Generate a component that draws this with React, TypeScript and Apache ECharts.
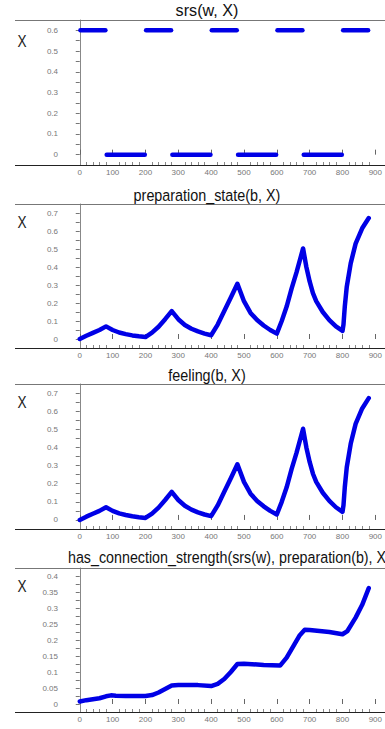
import React, { useEffect, useRef } from "react";
import * as echarts from "echarts";

// ---- data ----
const titles = [
  "srs(w, X)",
  "preparation_state(b, X)",
  "feeling(b, X)",
  "has_connection_strength(srs(w), preparation(b), X",
];
const xTickLabels = [0, 100, 200, 300, 400, 500, 600, 700, 800, 900];
const xMinorTicks = [
  20, 40, 60, 80, 120, 140, 160, 180, 220, 240, 260, 280, 320, 340, 360, 380,
  420, 440, 460, 480, 520, 540, 560, 580, 620, 640, 660, 680, 720, 740, 760,
  780, 820, 840, 860, 880,
];

// srs(w, X): piecewise constant segments
const srsStart = [0, 80, 200, 280, 400, 480, 600, 680, 800];
const srsEnd = [80, 200, 280, 400, 480, 600, 680, 800, 880];
const srsLevel = [0.6, 0, 0.6, 0, 0.6, 0, 0.6, 0, 0.6];

// preparation_state(b, X)
const prepX = [
  0, 20, 40, 60, 80, 100, 120, 140, 160, 180, 200, 220, 240, 260, 280, 300,
  320, 340, 360, 380, 400, 420, 440, 460, 480, 500, 520, 540, 560, 580, 600,
  615, 630, 645, 660, 680, 690, 700, 710, 720, 740, 760, 780, 800, 803, 807,
  813, 825, 840, 860, 880,
];
const prepY = [
  0, 0.018, 0.034, 0.05, 0.07, 0.05, 0.036, 0.027, 0.02, 0.015, 0.011, 0.035,
  0.068, 0.11, 0.155, 0.11, 0.078, 0.057, 0.042, 0.03, 0.021, 0.08, 0.155,
  0.23, 0.307, 0.21, 0.145, 0.105, 0.075, 0.05, 0.03, 0.1, 0.18, 0.28, 0.37,
  0.503, 0.4, 0.32, 0.255, 0.21, 0.15, 0.105, 0.07, 0.045, 0.08, 0.18, 0.29,
  0.42, 0.53, 0.615, 0.672,
];

// feeling(b, X)
const feelX = prepX;
const feelY = [
  0, 0.018, 0.034, 0.05, 0.07, 0.05, 0.036, 0.027, 0.02, 0.015, 0.011, 0.035,
  0.068, 0.11, 0.155, 0.11, 0.078, 0.057, 0.042, 0.03, 0.021, 0.08, 0.155,
  0.23, 0.307, 0.21, 0.145, 0.105, 0.075, 0.05, 0.03, 0.1, 0.18, 0.28, 0.37,
  0.503, 0.4, 0.32, 0.255, 0.21, 0.15, 0.105, 0.07, 0.045, 0.08, 0.18, 0.29,
  0.42, 0.53, 0.615, 0.672,
];

// has_connection_strength
const connX = [
  0, 20, 40, 60, 80, 95, 110, 140, 200, 220, 240, 260, 280, 300, 360, 400, 420,
  440, 460, 480, 500, 560, 610, 630, 650, 670, 685, 700, 760, 800, 815, 840,
  860, 880,
];
const connY = [
  0.008, 0.012, 0.015, 0.018, 0.024, 0.027, 0.026, 0.025, 0.025, 0.028, 0.036,
  0.047, 0.058, 0.059, 0.059, 0.056, 0.063, 0.078, 0.1, 0.125, 0.126, 0.122,
  0.12, 0.145, 0.18, 0.215, 0.232, 0.231, 0.225, 0.218, 0.228, 0.27, 0.31,
  0.362,
];

// y-axis ranges per panel
const yMins = [-0.05, -0.05, -0.05, -0.025];
const yMaxs = [0.65, 0.75, 0.75, 0.425];
const yIntervals = [0.05, 0.05, 0.05, 0.025];
const yLabelSteps = [0.1, 0.1, 0.1, 0.05];

// ---- layout ----
const panelTop = [20, 204, 384, 568];
const panelBottom = [165, 348, 529, 712];
const titleY = [10, 195, 375, 557];
const titleScale = [0.95, 0.845, 0.845, 0.84];
const xLabelY = [42, 223, 403, 587];

const BLUE = "#0000e6";
const FONT = "'Liberation Sans', Arial, sans-serif";

export default function App() {
  const ref = useRef<HTMLDivElement>(null);
  useEffect(() => {
    document.body.style.margin = "0";
    if (!ref.current) return;
    const chart = echarts.init(ref.current, null, { renderer: "svg" });

    const grids: any[] = [];
    const xAxes: any[] = [];
    const yAxes: any[] = [];
    const series: any[] = [];
    const graphics: any[] = [];

    for (let i = 0; i < 4; i++) {
      grids.push({
        left: 64,
        right: 0,
        top: panelTop[i],
        height: panelBottom[i] - panelTop[i],
        containLabel: false,
      });
      xAxes.push({
        type: "value",
        gridIndex: i,
        min: -48,
        max: 915,
        axisLine: { show: false },
        splitLine: { show: false },
        axisTick: {
          show: true,
          inside: true,
          length: 5,
          customValues: xTickLabels,
          lineStyle: { color: "#666", width: 1 },
        },
        axisLabel: {
          show: true,
          customValues: xTickLabels,
          color: "#777",
          fontSize: 8,
          fontFamily: FONT,
          margin: 3,
        },
      });
      xAxes.push({
        type: "value",
        gridIndex: i,
        position: "bottom",
        min: -48,
        max: 915,
        axisLine: { show: false },
        splitLine: { show: false },
        axisTick: {
          show: true,
          inside: true,
          length: 3,
          customValues: xMinorTicks,
          lineStyle: { color: "#888", width: 1 },
        },
        axisLabel: { show: false },
      });
      const step = yLabelSteps[i];
      yAxes.push({
        type: "value",
        gridIndex: i,
        min: yMins[i],
        max: yMaxs[i],
        interval: yIntervals[i],
        axisLine: { show: true, lineStyle: { color: "#888", width: 1 } },
        splitLine: { show: false },
        axisTick: {
          show: true,
          length: 4,
          lineStyle: { color: "#777", width: 1 },
        },
        axisLabel: {
          show: true,
          color: "#777",
          fontSize: 8,
          fontFamily: FONT,
          margin: 6,
          showMinLabel: false,
          showMaxLabel: false,
          formatter: (v: number) => {
            const k = v / step;
            if (Math.abs(k - Math.round(k)) > 1e-6 || v < -1e-9) return "";
            return String(parseFloat(v.toFixed(3)));
          },
        },
      });

      // frame lines
      graphics.push({
        type: "line",
        shape: { x1: 15, y1: panelTop[i] + 0.5, x2: 385, y2: panelTop[i] + 0.5 },
        style: { stroke: "#777", lineWidth: 1 },
        z: 10,
      });
      graphics.push({
        type: "line",
        shape: {
          x1: 15,
          y1: panelBottom[i] + 0.5,
          x2: 385,
          y2: panelBottom[i] + 0.5,
        },
        style: { stroke: "#222", lineWidth: 1 },
        z: 10,
      });
      // title
      const last = i === 3;
      graphics.push({
        type: "text",
        x: last ? 68 : 207,
        y: titleY[i],
        scaleX: titleScale[i],
        style: {
          text: titles[i],
          x: 0,
          y: 0,
          fill: "#111",
          font: `17px ${FONT}`,
          textAlign: last ? "left" : "center",
          textVerticalAlign: "middle",
        },
        z: 10,
      });
      // X label
      graphics.push({
        type: "text",
        x: 22,
        y: xLabelY[i],
        scaleX: 0.85,
        style: {
          text: "X",
          x: 0,
          y: 0,
          fill: "#222",
          font: `16px ${FONT}`,
          textAlign: "center",
          textVerticalAlign: "middle",
        },
        z: 10,
      });
    }

    const lineBase = {
      type: "line",
      symbol: "none",
      clip: true,
      animation: false,
      z: 5,
      lineStyle: { color: BLUE, width: 4.5, cap: "round", join: "round" },
    };

    for (let s = 0; s < srsStart.length; s++) {
      series.push({
        ...lineBase,
        xAxisIndex: 0,
        yAxisIndex: 0,
        data: [
          [srsStart[s] + 2, srsLevel[s]],
          [srsEnd[s] - 2, srsLevel[s]],
        ],
      });
    }
    series.push({
      ...lineBase,
      xAxisIndex: 2,
      yAxisIndex: 1,
      data: prepX.map((x, k) => [x, prepY[k]]),
    });
    series.push({
      ...lineBase,
      xAxisIndex: 4,
      yAxisIndex: 2,
      data: feelX.map((x, k) => [x, feelY[k]]),
    });
    series.push({
      ...lineBase,
      xAxisIndex: 6,
      yAxisIndex: 3,
      data: connX.map((x, k) => [x, connY[k]]),
    });

    chart.setOption({
      animation: false,
      backgroundColor: "#fff",
      grid: grids,
      xAxis: xAxes,
      yAxis: yAxes,
      series,
      graphic: graphics,
    });
    return () => chart.dispose();
  }, []);

  return (
    <div
      ref={ref}
      style={{ position: "fixed", left: 0, top: 0, width: 385, height: 729 }}
    />
  );
}
